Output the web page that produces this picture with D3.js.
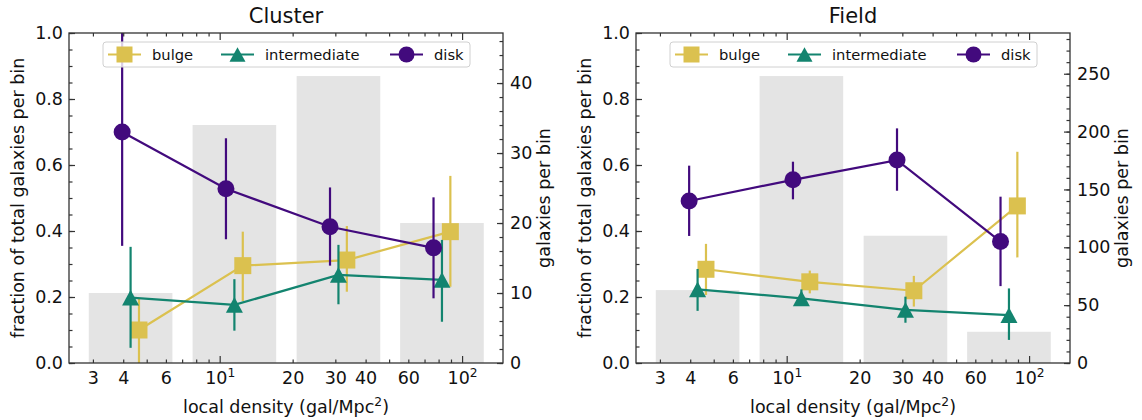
<!DOCTYPE html>
<html>
<head>
<meta charset="utf-8">
<script src="https://cdn.jsdelivr.net/npm/d3@7"></script>
<style>
  body { margin: 0; background: #fff; }
  text { font-family: "DejaVu Sans", sans-serif; fill: #111; }
</style>
</head>
<body>
<svg id="chart" width="1142" height="420"></svg>
<script>
// ---- data ----
const binCenters = [4.29, 11.5, 30.9, 82.6];   // gal/Mpc^2, log-spaced bins
const clusterCounts = [10, 34, 41, 20];
const fieldCounts = [63, 248, 110, 27];

const clusterBulge   = [0.100, 0.295, 0.312, 0.398];
const clusterBulgeLo = [0.000, 0.188, 0.216, 0.231];
const clusterBulgeHi = [0.196, 0.398, 0.415, 0.567];
const clusterInter   = [0.198, 0.176, 0.267, 0.252];
const clusterInterLo = [0.046, 0.098, 0.178, 0.125];
const clusterInterHi = [0.352, 0.254, 0.358, 0.373];
const clusterDisk    = [0.700, 0.528, 0.413, 0.349];
const clusterDiskLo  = [0.355, 0.375, 0.295, 0.196];
const clusterDiskHi  = [1.050, 0.681, 0.532, 0.502];

const fieldBulge   = [0.284, 0.246, 0.219, 0.476];
const fieldBulgeLo = [0.206, 0.211, 0.171, 0.320];
const fieldBulgeHi = [0.361, 0.280, 0.264, 0.640];
const fieldInter   = [0.223, 0.196, 0.161, 0.145];
const fieldInterLo = [0.158, 0.173, 0.122, 0.070];
const fieldInterHi = [0.285, 0.223, 0.201, 0.226];
const fieldDisk    = [0.491, 0.555, 0.615, 0.368];
const fieldDiskLo  = [0.385, 0.496, 0.522, 0.233];
const fieldDiskHi  = [0.598, 0.610, 0.711, 0.504];

const xMajorTicks = [10, 100];
const xMinorTicks = [3, 4, 5, 6, 7, 8, 9, 20, 30, 40, 50, 60, 70, 80, 90];
const xMinorLabeled = [3, 4, 6, 20, 30, 40, 60];
const yTicks = [0, 0.2, 0.4, 0.6, 0.8, 1.0];
const clusterCountTicks = [0, 10, 20, 30, 40];
const fieldCountTicks = [0, 50, 100, 150, 200, 250];

const typeNames = ["bulge", "intermediate", "disk"];
const typeColors = ["#dbc14f", "#13846f", "#420a7d"];
const typeDodge = [1.083, 1.0, 0.923];   // horizontal offset factor per type
const barWidthDex = 0.345;               // bar width in log10 units

// ---- layout ----
const svg = d3.select("#chart");
const margin = { left: 69, top: 33 };
const plotW = 434, plotH = 330;
const tickFont = 17.5;

let panels = [
  { title: "Cluster", ox: 0, counts: clusterCounts, cTicks: clusterCountTicks, cMinor: 2, labelGap: 47,
    series: [[clusterBulge, clusterBulgeLo, clusterBulgeHi],
             [clusterInter, clusterInterLo, clusterInterHi],
             [clusterDisk, clusterDiskLo, clusterDiskHi]] },
  { title: "Field", ox: 567, counts: fieldCounts, cTicks: fieldCountTicks, cMinor: 10, labelGap: 58,
    series: [[fieldBulge, fieldBulgeLo, fieldBulgeHi],
             [fieldInter, fieldInterLo, fieldInterHi],
             [fieldDisk, fieldDiskLo, fieldDiskHi]] }
];

let markerPath = function(type, s) {
  if (type == 0) return d3.symbol(d3.symbolSquare, s * s)();
  if (type == 2) return d3.symbol(d3.symbolCircle, Math.PI * s * s / 4)();
  let h = s * 0.92, w = s;
  return `M0,${-h / 2}L${w / 2},${h / 2}L${-w / 2},${h / 2}Z`;
};

let sup = function(sel, base, exp) {
  sel.text(base);
  sel.append("tspan").attr("dy", -7).attr("font-size", tickFont * 0.7).text(exp);
};

panels.forEach((p, pi) => {
  let g = svg.append("g").attr("transform", `translate(${margin.left + p.ox},${margin.top})`);

  let x = d3.scaleLog().domain([2.39, 147.5]).range([0, plotW]);
  let y = d3.scaleLinear().domain([0, 1]).range([plotH, 0]);
  let countMax = d3.max(p.counts) * 1.15;
  let yc = d3.scaleLinear().domain([0, countMax]).range([plotH, 0]);

  let clipId = "clip" + pi;
  g.append("clipPath").attr("id", clipId)
    .append("rect").attr("width", plotW).attr("height", plotH);

  // histogram of galaxies per bin (twin axis)
  let half = Math.pow(10, barWidthDex / 2);
  g.append("g").selectAll("rect")
    .data(p.counts)
    .join("rect")
      .attr("x", (d, i) => x(binCenters[i] / half))
      .attr("width", (d, i) => x(binCenters[i] * half) - x(binCenters[i] / half))
      .attr("y", d => yc(d))
      .attr("height", d => plotH - yc(d))
      .attr("fill", "#e4e4e4");

  // fraction series
  let lines = g.append("g").attr("clip-path", `url(#${clipId})`);
  p.series.forEach((s, t) => {
    let [vals, lo, hi] = s;
    let pts = vals.map((v, i) => ({ x: binCenters[i] * typeDodge[t], v: v, lo: lo[i], hi: hi[i] }));
    let sg = lines.append("g");
    sg.append("path")
      .datum(pts)
      .attr("fill", "none")
      .attr("stroke", typeColors[t])
      .attr("stroke-width", 2.2)
      .attr("d", d3.line().x(d => x(d.x)).y(d => y(d.v)));
    sg.selectAll("line.err")
      .data(pts)
      .join("line")
        .attr("class", "err")
        .attr("x1", d => x(d.x)).attr("x2", d => x(d.x))
        .attr("y1", d => y(d.lo)).attr("y2", d => y(d.hi))
        .attr("stroke", typeColors[t])
        .attr("stroke-width", 2.2);
    sg.selectAll("path.mk")
      .data(pts)
      .join("path")
        .attr("class", "mk")
        .attr("d", markerPath(t, 17))
        .attr("transform", d => `translate(${x(d.x)},${y(d.v)})`)
        .attr("fill", typeColors[t]);
  });

  // axes (ticks pointing inward)
  let fmtMinor = d => xMinorLabeled.includes(d) ? d : "";
  let bottom = g.append("g").attr("transform", `translate(0,${plotH})`);
  bottom.call(d3.axisBottom(x).tickValues(xMinorTicks).tickSize(-3.5).tickPadding(9).tickFormat(fmtMinor));
  bottom.append("g").call(d3.axisBottom(x).tickValues(xMajorTicks).tickSize(-7).tickPadding(9).tickFormat(""))
    .selectAll(".tick text")
    .each(function(d) { sup(d3.select(this), "10", Math.round(Math.log10(d))); });

  let top = g.append("g");
  top.call(d3.axisTop(x).tickValues(xMinorTicks).tickSize(-3.5).tickFormat(""));
  top.append("g").call(d3.axisTop(x).tickValues(xMajorTicks).tickSize(-7).tickFormat(""));

  let left = g.append("g");
  left.call(d3.axisLeft(y).tickValues(d3.range(0, 1.0001, 0.05)).tickSize(-3.5).tickFormat(""));
  left.append("g").call(d3.axisLeft(y).tickValues(yTicks).tickSize(-6).tickPadding(6).tickFormat(d3.format(".1f")));

  let right = g.append("g").attr("transform", `translate(${plotW},0)`);
  right.call(d3.axisRight(yc).tickValues(d3.range(0, countMax, p.cMinor)).tickSize(-3.5).tickFormat(""));
  right.append("g").call(d3.axisRight(yc).tickValues(p.cTicks).tickSize(-6).tickPadding(7));

  g.selectAll(".domain").remove();
  g.selectAll(".tick line").attr("stroke", "#333").attr("stroke-width", 1.2);
  g.selectAll(".tick text").attr("font-size", tickFont).attr("fill", "#111")
    .attr("font-family", "DejaVu Sans, sans-serif");

  // spines
  g.append("rect").attr("width", plotW).attr("height", plotH)
    .attr("fill", "none").attr("stroke", "#333").attr("stroke-width", 1.3);

  // legend
  let lg = g.append("g").attr("transform", "translate(34,9)");
  lg.append("rect").attr("width", 367).attr("height", 25).attr("rx", 3)
    .attr("fill", "#fff").attr("fill-opacity", 0.8)
    .attr("stroke", "#d0d0d0").attr("stroke-width", 1);
  let itemX = [5, 118, 287];
  typeNames.forEach((name, t) => {
    let it = lg.append("g").attr("transform", `translate(${itemX[t]},12.5)`);
    it.append("line").attr("x1", 0).attr("x2", 33)
      .attr("stroke", typeColors[t]).attr("stroke-width", 2.2);
    it.append("path").attr("d", markerPath(t, 16))
      .attr("transform", "translate(16.5,0)").attr("fill", typeColors[t]);
    it.append("text").attr("x", 44).attr("y", 5.3)
      .attr("font-size", 14.7).text(name);
  });

  // titles and axis labels
  svg.append("text")
    .attr("x", margin.left + p.ox + plotW / 2).attr("y", 23)
    .attr("text-anchor", "middle").attr("font-size", 21).text(p.title);

  let xl = svg.append("text")
    .attr("x", margin.left + p.ox + plotW / 2).attr("y", 413)
    .attr("text-anchor", "middle").attr("font-size", tickFont)
    .text("local density (gal/Mpc");
  xl.append("tspan").attr("dy", -7).attr("font-size", tickFont * 0.7).text("2");
  xl.append("tspan").attr("dy", 7).text(")");

  svg.append("text")
    .attr("transform", `translate(${p.ox + 24},${margin.top + plotH / 2}) rotate(-90)`)
    .attr("text-anchor", "middle").attr("font-size", tickFont)
    .text("fraction of total galaxies per bin");

  svg.append("text")
    .attr("transform", `translate(${margin.left + p.ox + plotW + p.labelGap},${margin.top + plotH / 2}) rotate(-90)`)
    .attr("text-anchor", "middle").attr("font-size", tickFont)
    .text("galaxies per bin");
});
</script>
</body>
</html>
